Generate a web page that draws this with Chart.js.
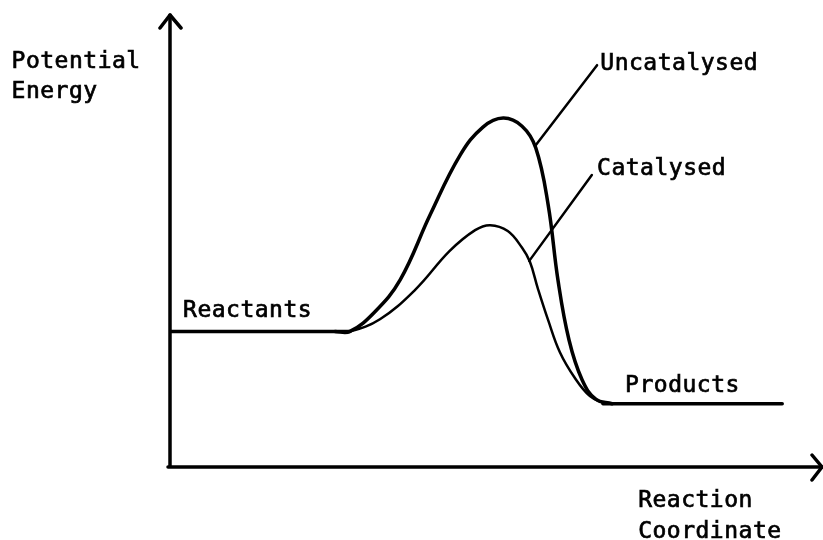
<!DOCTYPE html>
<html>
<head>
<meta charset="utf-8">
<script src="https://cdn.jsdelivr.net/npm/chart.js@4/dist/chart.umd.min.js"></script>
<style>
  html, body { margin: 0; padding: 0; background: #ffffff; }
  #c { display: block; }
</style>
</head>
<body>
<canvas id="c" width="823" height="540"></canvas>
<script>
// Reaction coordinate (x, 0-100) and potential energy (y, 0-100)
const reactantsX = [0, 27.6];
const reactantsE = [30, 30];
const productsX = [66.4, 93.9];
const productsE = [14, 14];

const uncatX = [25.3, 27.6, 31.4, 35.3, 39.9, 44.5, 48.0, 51.1, 54.0, 56.1, 58.0, 59.5, 61.2, 63.2, 65.3, 67.8];
const uncatE = [30, 30, 34.3, 41.4, 55.8, 69.0, 75.2, 77.2, 75.4, 70.6, 58.0, 41.4, 28.1, 19.3, 15.0, 14.0];

const catX = [25.3, 27.6, 32.2, 37.6, 42.9, 46.8, 49.1, 51.8, 54.0, 55.2, 56.4, 58.0, 59.8, 62.1, 64.4, 66.7];
const catE = [30, 30, 32.7, 39.2, 47.8, 52.4, 53.5, 52.2, 48.5, 45.4, 39.6, 32.5, 25.4, 19.7, 15.7, 14.0];

// leader lines from the curves to their labels
const uncatLeaderX = [56.0, 65.5];
const uncatLeaderE = [71.0, 88.9];
const catLeaderX = [55.1, 64.7];
const catLeaderE = [45.6, 64.6];

// text labels
const labelTexts = ["Uncatalysed", "Catalysed", "Reactants", "Products", "Potential", "Energy", "Reaction", "Coordinate"];
const labelX =     [66.0, 65.5, 2.0, 69.8, -24.3, -24.3, 71.8, 71.8];
const labelE =     [87.8, 64.6, 33.2, 16.6, 88.3, 81.6, -8.85, -15.7];

const toPts = (xs, ys) => xs.map((x, i) => ({ x: x, y: ys[i] }));

const annotate = {
  id: 'annotate',
  afterDatasetsDraw(chart) {
    const ctx = chart.ctx;
    const xs = chart.scales.x, ys = chart.scales.y;
    const x0 = xs.getPixelForValue(0), y0 = ys.getPixelForValue(0);
    const xEnd = xs.getPixelForValue(100), yEnd = ys.getPixelForValue(100);
    ctx.save();
    ctx.strokeStyle = '#000';
    ctx.lineWidth = 3.5;
    ctx.lineCap = 'round';
    ctx.lineJoin = 'round';
    // axes
    ctx.beginPath();
    ctx.moveTo(x0, y0);
    ctx.lineTo(x0, yEnd);
    ctx.moveTo(x0 - 2, y0);
    ctx.lineTo(xEnd, y0);
    ctx.stroke();
    // arrowheads
    ctx.beginPath();
    ctx.moveTo(x0 - 10, yEnd + 13);
    ctx.lineTo(x0, yEnd);
    ctx.lineTo(x0 + 11, yEnd + 13);
    ctx.moveTo(xEnd - 10, y0 - 12);
    ctx.lineTo(xEnd, y0);
    ctx.lineTo(xEnd - 10, y0 + 13);
    ctx.stroke();
    // labels
    ctx.fillStyle = '#000';
    ctx.lineWidth = 0.7;
    ctx.lineJoin = 'miter';
    ctx.font = '23px "DejaVu Sans Mono"';
    try { ctx.letterSpacing = '0.5px'; } catch (e) {}
    ctx.textAlign = 'left';
    ctx.textBaseline = 'alphabetic';
    labelTexts.forEach((t, i) => {
      const px = xs.getPixelForValue(labelX[i]), py = ys.getPixelForValue(labelE[i]);
      ctx.fillText(t, px, py);
      ctx.strokeText(t, px, py);
    });
    ctx.restore();
  }
};

const lineDs = (label, xs, ys, w, tension) => ({
  label: label, data: toPts(xs, ys), borderColor: '#000', borderWidth: w,
  pointRadius: 0, tension: tension, fill: false
});

new Chart(document.getElementById('c'), {
  type: 'line',
  data: {
    datasets: [
      lineDs('Reactants', reactantsX, reactantsE, 3.5, 0),
      lineDs('Products', productsX, productsE, 3.5, 0),
      lineDs('Uncatalysed', uncatX, uncatE, 3.5, 0.4),
      lineDs('Catalysed', catX, catE, 2.5, 0.4),
      lineDs('uncatLeader', uncatLeaderX, uncatLeaderE, 2.5, 0),
      lineDs('catLeader', catLeaderX, catLeaderE, 2.5, 0)
    ]
  },
  options: {
    responsive: false,
    animation: false,
    events: [],
    layout: { padding: { left: 170, right: 1, top: 15, bottom: 73 } },
    scales: {
      x: { type: 'linear', min: 0, max: 100, display: false },
      y: { type: 'linear', min: 0, max: 100, display: false }
    },
    plugins: { legend: { display: false }, tooltip: { enabled: false }, title: { display: false } },
    elements: { line: { borderCapStyle: 'round', borderJoinStyle: 'round' } }
  },
  plugins: [annotate]
});
</script>
</body>
</html>
